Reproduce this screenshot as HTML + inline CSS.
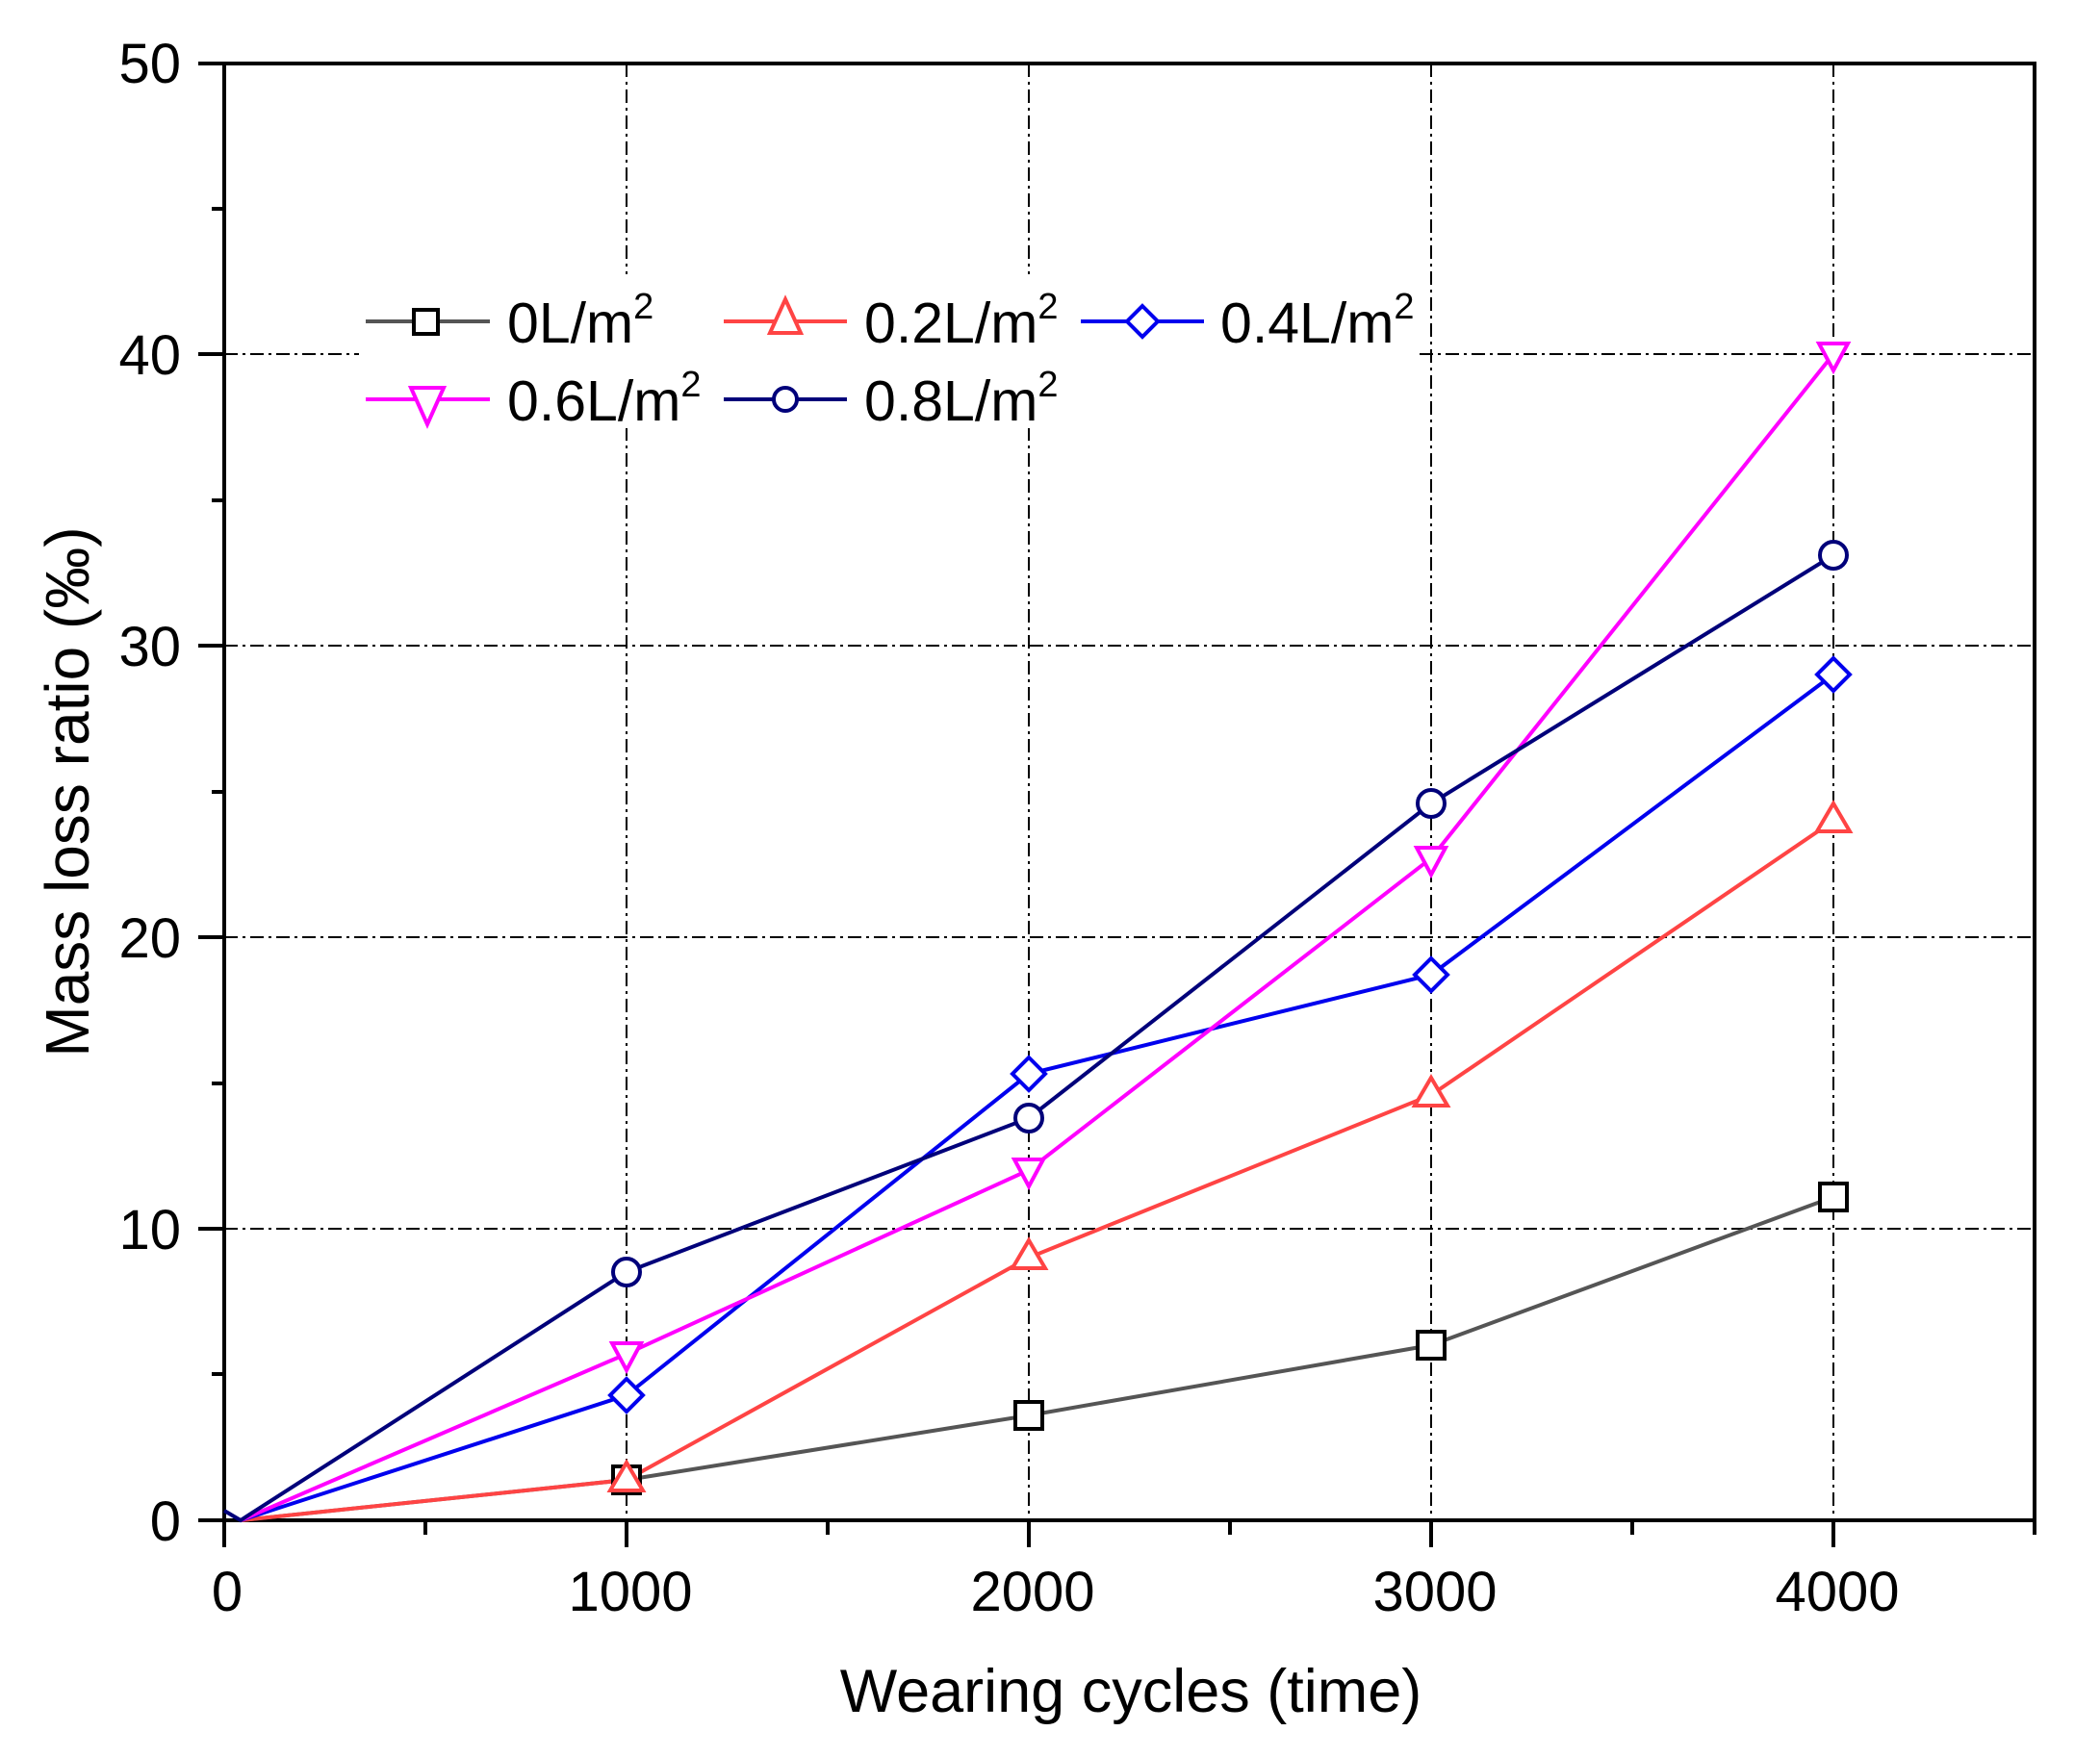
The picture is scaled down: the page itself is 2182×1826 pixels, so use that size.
<!DOCTYPE html>
<html><head><meta charset="utf-8"><style>body{margin:0;background:#fff}svg{display:block}</style></head>
<body>
<svg width="2182" height="1826" viewBox="0 0 2182 1826" xmlns="http://www.w3.org/2000/svg" font-family="Liberation Sans, sans-serif">
<rect width="2182" height="1826" fill="#fff"/>
<g stroke="#000" stroke-width="2" stroke-dasharray="14,5,3,5" fill="none">
<line x1="233" y1="1277" x2="2114" y2="1277"/>
<line x1="233" y1="974" x2="2114" y2="974"/>
<line x1="233" y1="671" x2="2114" y2="671"/>
<line x1="233" y1="368" x2="2114" y2="368"/>
<line x1="651" y1="66" x2="651" y2="1580"/>
<line x1="1069" y1="66" x2="1069" y2="1580"/>
<line x1="1487" y1="66" x2="1487" y2="1580"/>
<line x1="1905" y1="66" x2="1905" y2="1580"/>
</g>
<rect x="373" y="285" width="1097" height="160" fill="#fff"/>
<g stroke="#000" stroke-width="4" fill="none">
<rect x="233" y="66" width="1881" height="1514"/>
<line x1="206" y1="66" x2="233" y2="66"/>
<line x1="206" y1="368" x2="233" y2="368"/>
<line x1="206" y1="671" x2="233" y2="671"/>
<line x1="206" y1="974" x2="233" y2="974"/>
<line x1="206" y1="1277" x2="233" y2="1277"/>
<line x1="206" y1="1580" x2="233" y2="1580"/>
<line x1="220" y1="217" x2="233" y2="217"/>
<line x1="220" y1="520" x2="233" y2="520"/>
<line x1="220" y1="823" x2="233" y2="823"/>
<line x1="220" y1="1126" x2="233" y2="1126"/>
<line x1="220" y1="1428" x2="233" y2="1428"/>
<line x1="233" y1="1580" x2="233" y2="1608"/>
<line x1="651" y1="1580" x2="651" y2="1608"/>
<line x1="1069" y1="1580" x2="1069" y2="1608"/>
<line x1="1487" y1="1580" x2="1487" y2="1608"/>
<line x1="1905" y1="1580" x2="1905" y2="1608"/>
<line x1="442" y1="1580" x2="442" y2="1595"/>
<line x1="860" y1="1580" x2="860" y2="1595"/>
<line x1="1278" y1="1580" x2="1278" y2="1595"/>
<line x1="1696" y1="1580" x2="1696" y2="1595"/>
<line x1="2114" y1="1580" x2="2114" y2="1595"/>
</g>
<g font-size="58" fill="#000" text-anchor="end">
<text x="188" y="86">50</text>
<text x="188" y="389">40</text>
<text x="188" y="692">30</text>
<text x="188" y="995">20</text>
<text x="188" y="1298">10</text>
<text x="188" y="1601">0</text>
</g>
<g font-size="58" fill="#000" text-anchor="middle">
<text x="236" y="1674">0</text>
<text x="655" y="1674">1000</text>
<text x="1073" y="1674">2000</text>
<text x="1491" y="1674">3000</text>
<text x="1909" y="1674">4000</text>
</g>
<text x="1175" y="1779" font-size="63" text-anchor="middle">Wearing cycles (time)</text>
<text transform="translate(92,823) rotate(-90)" font-size="64" text-anchor="middle">Mass loss ratio (‰)</text>
<g fill="none" stroke-width="4">
<polyline stroke="#555" points="250,1580 651,1538 1069,1471 1487,1398 1905,1244"/>
<polyline stroke="#f44" points="250,1580 651,1538 1069,1307 1487,1138 1905,853"/>
<polyline stroke="#0000ee" points="250,1580 651,1450 1069,1116 1487,1013 1905,701"/>
<polyline stroke="#f0f" points="250,1580 651,1407 1069,1216 1487,892 1905,368"/>
<polyline stroke="#00007a" points="233,1570 250,1580 651,1322 1069,1162 1487,835 1905,577"/>
</g>
<g fill="#fff" stroke-width="4">
<g stroke="#000">
<rect x="637" y="1524" width="28" height="28"/><rect x="1055" y="1457" width="28" height="28"/><rect x="1473" y="1384" width="28" height="28"/><rect x="1891" y="1230" width="28" height="28"/>
</g>
<g stroke="#f44">
<polygon points="651,1520 668,1549 634,1549"/><polygon points="1069,1289 1086,1318 1052,1318"/><polygon points="1487,1120 1504,1149 1470,1149"/><polygon points="1905,835 1922,864 1888,864"/>
</g>
<g stroke="#0000ee">
<polygon points="651,1433 668,1450 651,1467 634,1450"/><polygon points="1069,1099 1086,1116 1069,1133 1052,1116"/><polygon points="1487,996 1504,1013 1487,1030 1470,1013"/><polygon points="1905,684 1922,701 1905,718 1888,701"/>
</g>
<g stroke="#f0f">
<polygon points="636,1396 666,1396 651,1424"/><polygon points="1054,1205 1084,1205 1069,1233"/><polygon points="1472,881 1502,881 1487,909"/><polygon points="1890,357 1920,357 1905,385"/>
</g>
<g stroke="#00007a">
<circle cx="651" cy="1322" r="14"/><circle cx="1069" cy="1162" r="14"/><circle cx="1487" cy="835" r="14"/><circle cx="1905" cy="577" r="14"/>
</g>
</g>
<g stroke-width="4" fill="#fff">
<line x1="380" y1="334" x2="509" y2="334" stroke="#555"/>
<rect x="430" y="322" width="25" height="25" stroke="#000"/>
<line x1="752" y1="334" x2="880" y2="334" stroke="#f44"/>
<polygon points="816,311 832,346 800,346" stroke="#f44"/>
<line x1="1123" y1="334" x2="1251" y2="334" stroke="#0000ee"/>
<polygon points="1187,318 1203,334 1187,350 1171,334" stroke="#0000ee"/>
<line x1="380" y1="415" x2="509" y2="415" stroke="#f0f"/>
<polygon points="427,403 461,403 444,441" stroke="#f0f"/>
<line x1="752" y1="415" x2="880" y2="415" stroke="#00007a"/>
<circle cx="816" cy="415" r="12" stroke="#00007a"/>
</g>
<g font-size="59" fill="#000">
<text x="527" y="356">0L/m<tspan font-size="38" dy="-25">2</tspan></text>
<text x="898" y="356">0.2L/m<tspan font-size="38" dy="-25">2</tspan></text>
<text x="1268" y="356">0.4L/m<tspan font-size="38" dy="-25">2</tspan></text>
<text x="527" y="437">0.6L/m<tspan font-size="38" dy="-25">2</tspan></text>
<text x="898" y="437">0.8L/m<tspan font-size="38" dy="-25">2</tspan></text>
</g>
</svg>
</body></html>
